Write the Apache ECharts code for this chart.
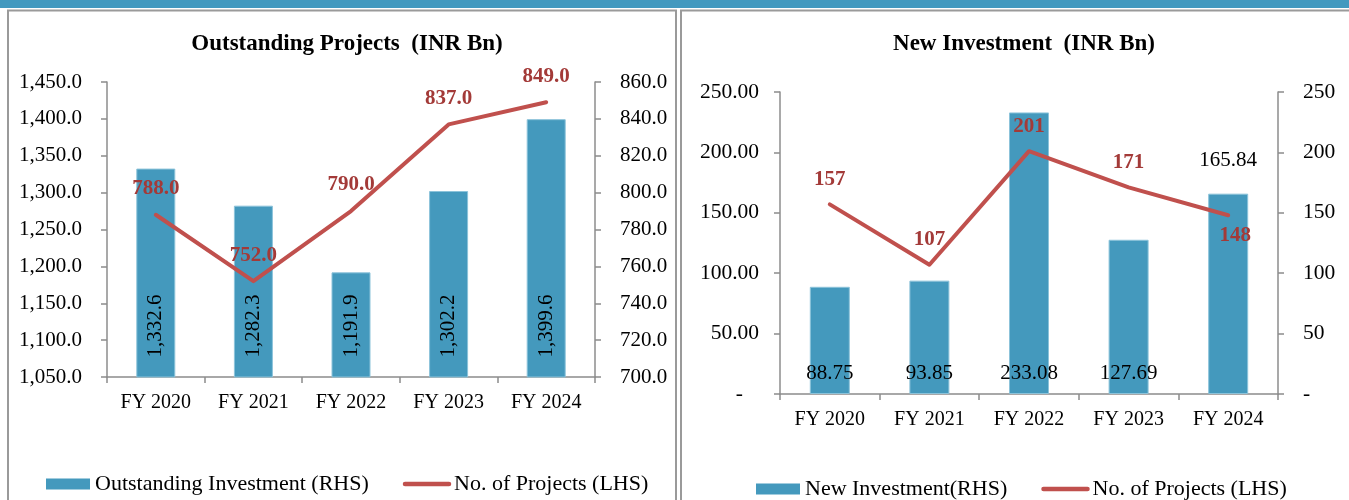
<!DOCTYPE html>
<html>
<head>
<meta charset="utf-8">
<title>Outstanding Projects and New Investment</title>
<script src="https://cdn.jsdelivr.net/npm/echarts@6/dist/echarts.min.js"></script>
<style>
  html, body { margin: 0; padding: 0; background: #fff; }
  #chart { width: 1349px; height: 500px; }
</style>
</head>
<body>
<div id="chart"></div>
<script>
// Financial years on both panels
const categories = ['FY 2020', 'FY 2021', 'FY 2022', 'FY 2023', 'FY 2024'];

// Outstanding projects panel
const outstandingInvestment = [1332.6, 1282.3, 1191.9, 1302.2, 1399.6]; // INR Bn
const outstandingProjects = [788, 752, 790, 837, 849];                  // count

// New investment panel
const newInvestment = [88.75, 93.85, 233.08, 127.69, 165.84];           // INR Bn
const newProjects = [157, 107, 201, 171, 148];                          // count

// Axis ranges
const leftInvAxis = { min: 1050, max: 1450, interval: 50 };
const leftProjAxis = { min: 700, max: 860, interval: 20 };
const rightInvAxis = { min: 0, max: 250, interval: 50 };
const rightProjAxis = { min: 0, max: 250, interval: 50 };

const FONT = 'Liberation Serif';
const BAR = '#4499BD';
const LINE = '#C0504D';
const LABEL_RED = '#A33A38';
const AXIS = '#8C8C8C';

const fmt = (v, d) => v.toLocaleString('en-US', { minimumFractionDigits: d, maximumFractionDigits: d });

function valueAxis(gridIndex, range, position, formatter, margin, size) {
  return {
    type: 'value', gridIndex, position,
    min: range.min, max: range.max, interval: range.interval,
    splitLine: { show: false },
    axisLine: { show: true, lineStyle: { color: AXIS, width: 1.5 } },
    axisTick: { show: true, length: 6, lineStyle: { color: AXIS, width: 1.5 } },
    axisLabel: { color: '#000', fontFamily: FONT, fontSize: size, margin, formatter }
  };
}

function categoryAxis(gridIndex) {
  return {
    type: 'category', gridIndex, data: categories,
    axisLine: { lineStyle: { color: AXIS, width: 1.5 } },
    axisTick: { show: true, length: 6, alignWithLabel: false, lineStyle: { color: AXIS, width: 1.5 } },
    axisLabel: { color: '#000', fontFamily: FONT, fontSize: 20, margin: 16 }
  };
}

function legendBlock(left, top, barName, lineName) {
  return {
    left, top, padding: 0, itemWidth: 44, itemHeight: 11, itemGap: 34,
    textStyle: { fontFamily: FONT, fontSize: 22, color: '#000' },
    data: [
      { name: barName, icon: 'rect', itemStyle: { borderWidth: 0 } },
      { name: lineName, itemStyle: { color: 'rgba(0,0,0,0)', borderWidth: 0 },
        lineStyle: { color: LINE, width: 4.5, cap: 'round' } }
    ]
  };
}

function projectLine(name, xi, yi, data, decimals, labelDistance) {
  return {
    name, type: 'line', xAxisIndex: xi, yAxisIndex: yi, data,
    symbol: 'circle', symbolSize: 1, showSymbol: true,
    lineStyle: { color: LINE, width: 4, cap: 'round', join: 'round' },
    itemStyle: { color: LINE },
    label: { show: true, position: 'top', distance: labelDistance, color: LABEL_RED, fontFamily: FONT,
      fontSize: 21, fontWeight: 'bold', formatter: p => fmt(p.value, decimals) }
  };
}

const lastIdx = categories.length - 1;

const option = {
  animation: false,
  backgroundColor: '#fff',
  graphic: [
    { type: 'rect', shape: { x: 0, y: 0, width: 1349, height: 8 }, style: { fill: '#4399BF' } },
    { type: 'rect', shape: { x: 8, y: 10.5, width: 668, height: 500 }, style: { fill: 'none', stroke: '#9A9A9A', lineWidth: 2 } },
    { type: 'rect', shape: { x: 681, y: 10.5, width: 690, height: 500 }, style: { fill: 'none', stroke: '#9A9A9A', lineWidth: 2 } }
  ],
  title: [
    { text: 'Outstanding Projects  (INR Bn)', left: 342, top: 28, textAlign: 'center',
      textStyle: { fontFamily: FONT, fontSize: 23, fontWeight: 'bold', color: '#000' } },
    { text: 'New Investment  (INR Bn)', left: 1019, top: 28, textAlign: 'center',
      textStyle: { fontFamily: FONT, fontSize: 23, fontWeight: 'bold', color: '#000' } }
  ],
  legend: [
    legendBlock(46, 473, 'Outstanding Investment (RHS)', 'No. of Projects (LHS)'),
    legendBlock(756, 478, 'New Investment(RHS)', 'No. of Projects (LHS) ')
  ],
  grid: [
    { left: 107, top: 82, width: 488, height: 295 },
    { left: 780, top: 92, width: 498, height: 302 }
  ],
  xAxis: [categoryAxis(0), categoryAxis(1)],
  yAxis: [
    valueAxis(0, leftInvAxis, 'left', v => fmt(v, 1), 25, 21),
    valueAxis(0, leftProjAxis, 'right', v => fmt(v, 1), 25, 21),
    valueAxis(1, rightInvAxis, 'left', v => v === 0 ? '-   ' : fmt(v, 2), 21, 21.5),
    valueAxis(1, rightProjAxis, 'right', v => v === 0 ? '-' : String(v), 25, 21.5)
  ],
  series: [
    {
      name: 'Outstanding Investment (RHS)', type: 'bar', xAxisIndex: 0, yAxisIndex: 0,
      data: outstandingInvestment, barWidth: 39,
      itemStyle: { color: BAR, borderColor: '#8CC3DA', borderWidth: 1 },
      label: { show: true, position: 'insideBottom', rotate: 90, align: 'left', verticalAlign: 'middle',
        distance: 20, color: '#000', fontFamily: FONT, fontSize: 21, formatter: p => fmt(p.value, 1) }
    },
    projectLine('No. of Projects (LHS)', 0, 1, outstandingProjects, 1, 15),
    {
      name: 'New Investment(RHS)', type: 'bar', xAxisIndex: 1, yAxisIndex: 2,
      data: newInvestment.map((v, i) => i === lastIdx
        ? { value: v, label: { position: 'top', distance: 23 } }
        : v),
      barWidth: 40,
      itemStyle: { color: BAR, borderColor: '#8CC3DA', borderWidth: 1 },
      label: { show: true, position: 'insideBottom', distance: 10, color: '#000', fontFamily: FONT,
        fontSize: 21, formatter: p => fmt(p.value, 2) }
    },
    projectLine('No. of Projects (LHS) ', 1, 3,
      newProjects.map((v, i) => i === lastIdx
        ? { value: v, label: { position: 'bottom', distance: 9, offset: [7, 0] } }
        : v),
      0, 14)
  ]
};

const chart = echarts.init(document.getElementById('chart'), null, { renderer: 'canvas' });
chart.setOption(option);
</script>
</body>
</html>
